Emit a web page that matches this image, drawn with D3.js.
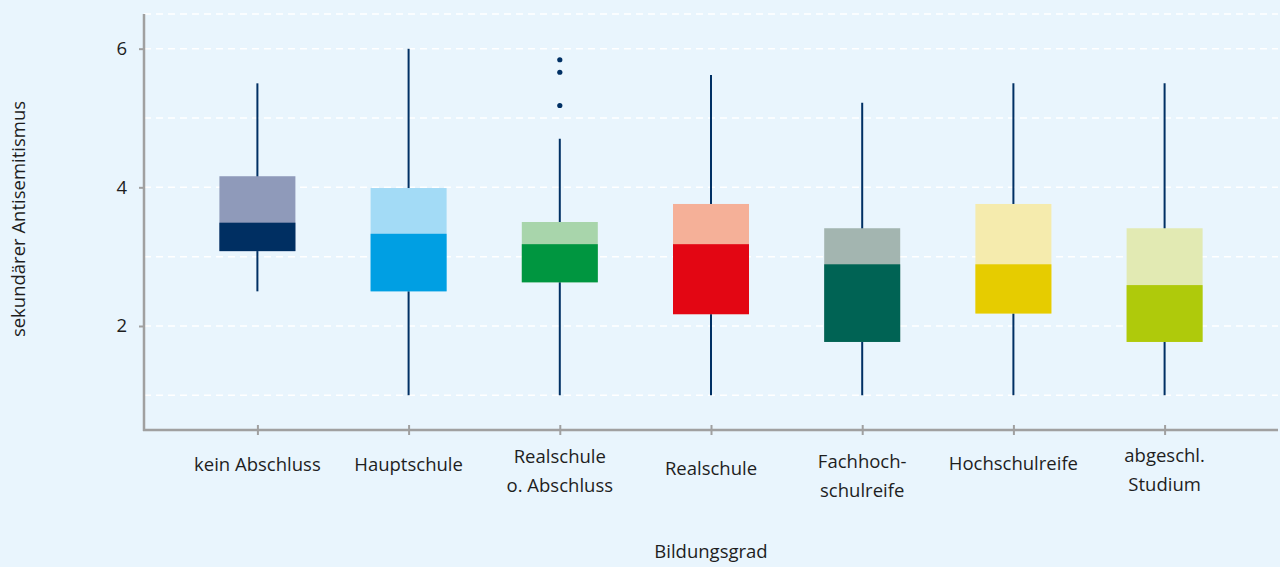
<!DOCTYPE html>
<html><head><meta charset="utf-8">
<script src="https://cdn.jsdelivr.net/npm/d3@7"></script>
<style>
html,body{margin:0;padding:0;background:#e9f5fd;}
svg{display:block;font-family:"Open Sans",sans-serif;}
</style></head>
<body><svg id="c" width="1280" height="567"></svg>
<script>
const categories = ["kein Abschluss","Hauptschule","Realschule\no. Abschluss","Realschule","Fachhoch-\nschulreife","Hochschulreife","abgeschl.\nStudium"];
const whiskerLow  = [2.5, 1.0, 1.0, 1.0, 1.0, 1.0, 1.0];
const q1          = [3.08, 2.5, 2.63, 2.17, 1.77, 2.18, 1.77];
const median      = [3.49, 3.33, 3.18, 3.18, 2.89, 2.89, 2.59];
const q3          = [4.16, 3.99, 3.5, 3.76, 3.41, 3.76, 3.41];
const whiskerHigh = [5.5, 6.0, 4.7, 5.62, 5.22, 5.5, 5.5];
const outliers    = [[], [], [5.84, 5.66, 5.18], [], [], [], []];
const lightColors = ["#8f9aba","#a3dbf6","#a8d5ab","#f5b098","#a3b5b0","#f5ebad","#e2eab3"];
const darkColors  = ["#002f62","#009fe3","#009640","#e30613","#006354","#e6cc00","#afca0b"];
const yTicks = [2, 4, 6];
const gridValues = [1, 2, 3, 4, 5, 6, 6.5];

(function(){
const labelShift = [0, 0, 0, 4, 5, -1, -1];
const fs = 18.5;
const svg = d3.select("#c");
const mLeft = 144, mRight = 1278, mTop = 14, mBottom = 430;
const x = d3.scalePoint().domain(categories).range([mLeft, mRight]).padding(0.75);
const y = d3.scaleLinear().domain([0.5, 6.5]).range([mBottom, mTop]);
const boxW = 76;

svg.append("g").selectAll("line").data(gridValues).join("line")
  .attr("x1", mLeft).attr("x2", mRight)
  .attr("y1", d => y(d)).attr("y2", d => y(d))
  .attr("stroke", "#ffffff").attr("stroke-width", 1.5)
  .attr("stroke-dasharray", "7,5");

const data = categories.map((c, i) => ({c, i}));
const g = svg.append("g");
g.selectAll("line.w").data(data).join("line").attr("class","w")
  .attr("x1", d => x(d.c)).attr("x2", d => x(d.c))
  .attr("y1", d => y(whiskerLow[d.i])).attr("y2", d => y(whiskerHigh[d.i]))
  .attr("stroke", "#003064").attr("stroke-width", 2);
g.selectAll("rect.u").data(data).join("rect").attr("class","u")
  .attr("x", d => x(d.c) - boxW/2).attr("width", boxW)
  .attr("y", d => y(q3[d.i])).attr("height", d => y(q1[d.i]) - y(q3[d.i]))
  .attr("fill", d => lightColors[d.i]);
g.selectAll("rect.l").data(data).join("rect").attr("class","l")
  .attr("x", d => x(d.c) - boxW/2).attr("width", boxW)
  .attr("y", d => y(median[d.i])).attr("height", d => y(q1[d.i]) - y(median[d.i]))
  .attr("fill", d => darkColors[d.i]);
const outPts = [];
outliers.forEach((arr, i) => arr.forEach(v => outPts.push({c: categories[i], v})));
g.selectAll("circle").data(outPts).join("circle")
  .attr("cx", d => x(d.c)).attr("cy", d => y(d.v)).attr("r", 2.6)
  .attr("fill", "#003064");

const axisColor = "#a0a0a0";
const yAxis = svg.append("g").attr("transform", `translate(${mLeft},0)`)
  .call(d3.axisLeft(y).tickValues(yTicks).tickSize(5).tickPadding(12).tickFormat(d3.format("d")));
yAxis.select(".domain").remove();
yAxis.selectAll(".tick line").attr("stroke", axisColor).attr("stroke-width", 2);
yAxis.selectAll(".tick text").attr("fill", "#1e1e1e").attr("font-size", fs)
  .attr("font-family", "'Open Sans',sans-serif");
svg.append("line").attr("x1", mLeft).attr("x2", mLeft).attr("y1", mTop).attr("y2", mBottom + 1)
  .attr("stroke", axisColor).attr("stroke-width", 2.5);

const xAxis = svg.append("g").attr("transform", `translate(0,${mBottom})`)
  .call(d3.axisBottom(x).tickSize(5).tickFormat(""));
xAxis.select(".domain").remove();
xAxis.selectAll(".tick line").attr("stroke", axisColor).attr("stroke-width", 2).attr("y1", -5);
svg.append("line").attr("x1", mLeft - 1).attr("x2", mRight).attr("y1", mBottom).attr("y2", mBottom)
  .attr("stroke", axisColor).attr("stroke-width", 2.5);

const lab = svg.append("g").selectAll("text").data(data).join("text")
  .attr("x", d => x(d.c)).attr("text-anchor", "middle")
  .attr("font-size", fs).attr("fill", "#1e1e1e");
lab.each(function(d) {
  const lines = d.c.split("\n");
  const base = (lines.length === 1 ? 471 : 463) + labelShift[d.i];
  d3.select(this).selectAll("tspan").data(lines).join("tspan")
    .attr("x", x(d.c)).attr("y", (t, k) => base + k * 29)
    .text(t => t);
});

svg.append("text").attr("x", (mLeft + mRight) / 2).attr("y", 558)
  .attr("text-anchor", "middle").attr("font-size", fs).attr("fill", "#1e1e1e").text("Bildungsgrad");
svg.append("text").attr("transform", "translate(25,219) rotate(-90)")
  .attr("text-anchor", "middle").attr("font-size", fs).attr("fill", "#1e1e1e").text("sekundärer Antisemitismus");
})();
</script></body></html>
